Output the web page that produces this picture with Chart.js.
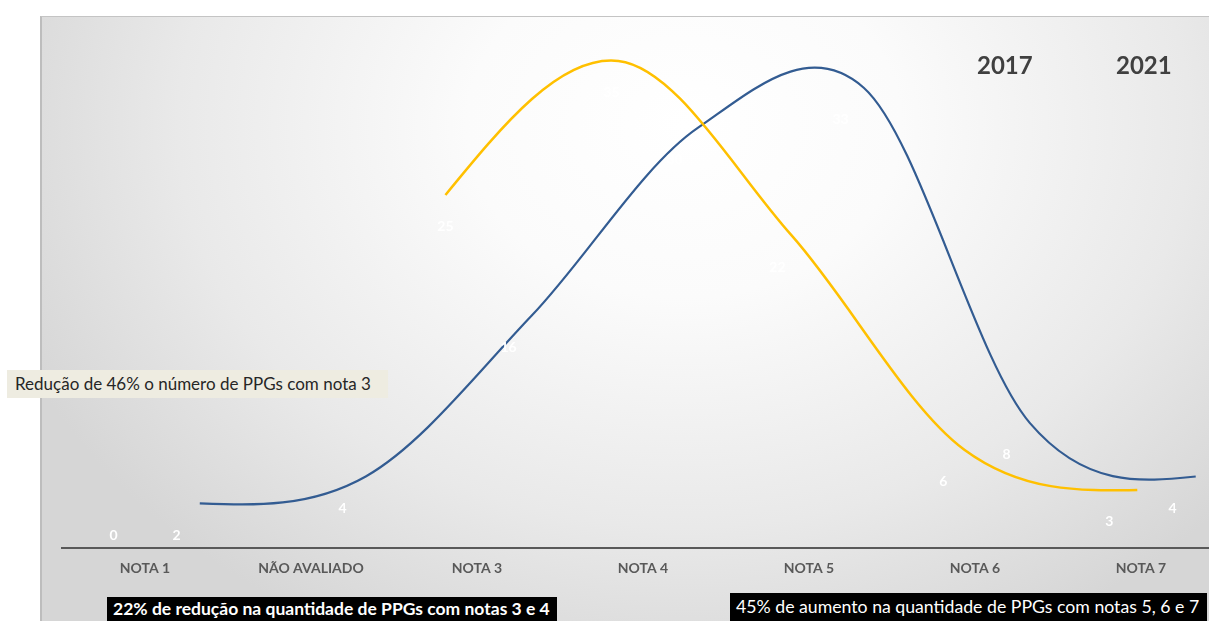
<!DOCTYPE html>
<html lang="pt-BR">
<head>
<meta charset="utf-8">
<script src="https://cdn.jsdelivr.net/npm/chart.js@4.4.1/dist/chart.umd.min.js"></script>
<style>
  html, body { margin: 0; padding: 0; background: #fff; overflow: hidden; }
  #wrap { position: relative; width: 1209px; height: 621px; }
  #painel {
    position: absolute; left: 40px; top: 16px; width: 1169px; height: 605px;
    box-sizing: border-box; border-top: 1px solid #c4c4c4; border-left: 2px solid #bdbdbd;
    background: radial-gradient(ellipse 62% 95% at 55% 18%, #ffffff 0%, #fbfbfb 30%, #e9e9e9 70%, #d6d6d6 100%);
  }
  canvas { position: absolute; left: 0; top: 0; }
  .ano { position: absolute; top: 50px; font: bold 24px Lato, sans-serif; color: #404040; }
  #nota3 {
    position: absolute; left: 7px; top: 370px; width: 381px; height: 28px;
    background: #eeece1; color: #262626; font: 17px Lato, sans-serif;
    line-height: 28px; padding-left: 8px; box-sizing: border-box; white-space: nowrap;
  }
  .faixa {
    position: absolute; background: #000; color: #fff; font: 17px Lato, sans-serif;
    box-sizing: border-box; padding-left: 6px; white-space: nowrap;
  }
</style>
</head>
<body>
<div id="wrap">
  <div id="painel"></div>
  <canvas id="grafico" width="1209" height="621"></canvas>
  <div class="ano" style="left:977px">2017</div>
  <div class="ano" style="left:1116px">2021</div>
  <div id="nota3">Redução de 46% o número de PPGs com nota 3</div>
  <div class="faixa" style="left:107px; top:597px; width:450px; height:24px; line-height:24px; font-weight:bold; font-size:17.5px">22% de redução na quantidade de PPGs com notas 3 e 4</div>
  <div class="faixa" style="left:730px; top:593px; width:477px; height:28px; line-height:28px; font-size:17.7px">45% de aumento na quantidade de PPGs com notas 5, 6 e 7</div>
</div>
<script>
const categorias = ['NOTA 1', 'NÃO AVALIADO', 'NOTA 3', 'NOTA 4', 'NOTA 5', 'NOTA 6', 'NOTA 7'];
const anos = ['2017', '2021'];
const valores2017 = [0, null, 25, 35, 22, 6, 3];
const valores2021 = [2, 4, 16, 30, 33, 8, 4];
const inicioCurva2017 = 2; // a curva amarela so comeca na NOTA 3

// curvas deslocadas em relacao as categorias, como no slide
const curva2017 = valores2017
    .map((v, i) => ({ x: i - 0.19 + (i - inicioCurva2017) * 0.042, y: v }))
    .filter((p, i) => i >= inicioCurva2017);
const curva2021 = valores2021.map((v, i) => ({ x: i + 0.33, y: v }));

// suavizacao tipo Excel (catmull-rom, pontas "naturais") nos pontos ja posicionados pelas escalas
const suavizacao = {
    id: 'suavizacao',
    beforeDatasetDraw(chart, args) {
        const pts = args.meta.data;
        const n = pts.length - 1;
        if (n < 2) return;
        const t = pts.map((p, i) => {
            if (i === 0 || i === n) return null;
            return { x: (pts[i + 1].x - pts[i - 1].x) / 2, y: (pts[i + 1].y - pts[i - 1].y) / 2 };
        });
        t[0] = { x: (3 * (pts[1].x - pts[0].x) - t[1].x) / 2, y: (3 * (pts[1].y - pts[0].y) - t[1].y) / 2 };
        t[n] = { x: (3 * (pts[n].x - pts[n - 1].x) - t[n - 1].x) / 2, y: (3 * (pts[n].y - pts[n - 1].y) - t[n - 1].y) / 2 };
        args.meta.dataset._pointsUpdated = true;
        pts.forEach((p, i) => {
            p.cp1x = p.x - t[i].x / 3; p.cp1y = p.y - t[i].y / 3;
            p.cp2x = p.x + t[i].x / 3; p.cp2y = p.y + t[i].y / 3;
        });
    }
};

// rotulos brancos abaixo de cada ponto (pares agrupados por categoria)
const rotulos = {
    id: 'rotulos',
    afterDatasetsDraw(chart) {
        const ctx = chart.ctx;
        const x = chart.scales.x, y = chart.scales.y;
        ctx.save();
        ctx.font = 'bold 14px Lato, sans-serif';
        ctx.fillStyle = '#ffffff';
        ctx.textAlign = 'center';
        ctx.textBaseline = 'middle';
        [valores2017, valores2021].forEach((serie, s) => {
            serie.forEach((v, i) => {
                if (v === null) return;
                const px = x.getPixelForValue(i + (s === 0 ? -0.19 : 0.19));
                let py = y.getPixelForValue(v) + 32;
                py = Math.min(py, chart.chartArea.bottom - 13);
                ctx.fillText(String(v), px, py);
            });
        });
        ctx.restore();
    }
};

const data = {
    datasets: [
        {
            label: anos[0],
            data: curva2017,
            borderColor: '#FFC000',
            borderWidth: 2.5,
            pointRadius: 0,
            tension: 0.4,
            fill: false
        },
        {
            label: anos[1],
            data: curva2021,
            borderColor: '#335C92',
            borderWidth: 2.2,
            pointRadius: 0,
            tension: 0.4,
            fill: false
        }
    ]
};

const config = {
    type: 'line',
    data: data,
    options: {
        responsive: false,
        animation: false,
        devicePixelRatio: 1,
        layout: { padding: { left: 62, top: 18, right: 0, bottom: 32 } },
        plugins: {
            legend: { display: false },
            tooltip: { enabled: false }
        },
        scales: {
            x: {
                type: 'linear',
                min: -0.5,
                max: 6.41,
                afterBuildTicks: scale => { scale.ticks = categorias.map((c, i) => ({ value: i })); },
                ticks: {
                    callback: v => categorias[v],
                    color: '#595959',
                    font: { family: 'Lato', weight: 'bold', size: 14 },
                    padding: 12,
                    maxRotation: 0,
                    autoSkip: false
                },
                grid: { display: false, drawTicks: false },
                border: { display: true, color: '#595959', width: 2 }
            },
            y: {
                display: false,
                min: -1.35,
                max: 38.2
            }
        }
    },
    plugins: [suavizacao, rotulos]
};

const chart = new Chart(document.getElementById('grafico'), config);
</script>
</body>
</html>
